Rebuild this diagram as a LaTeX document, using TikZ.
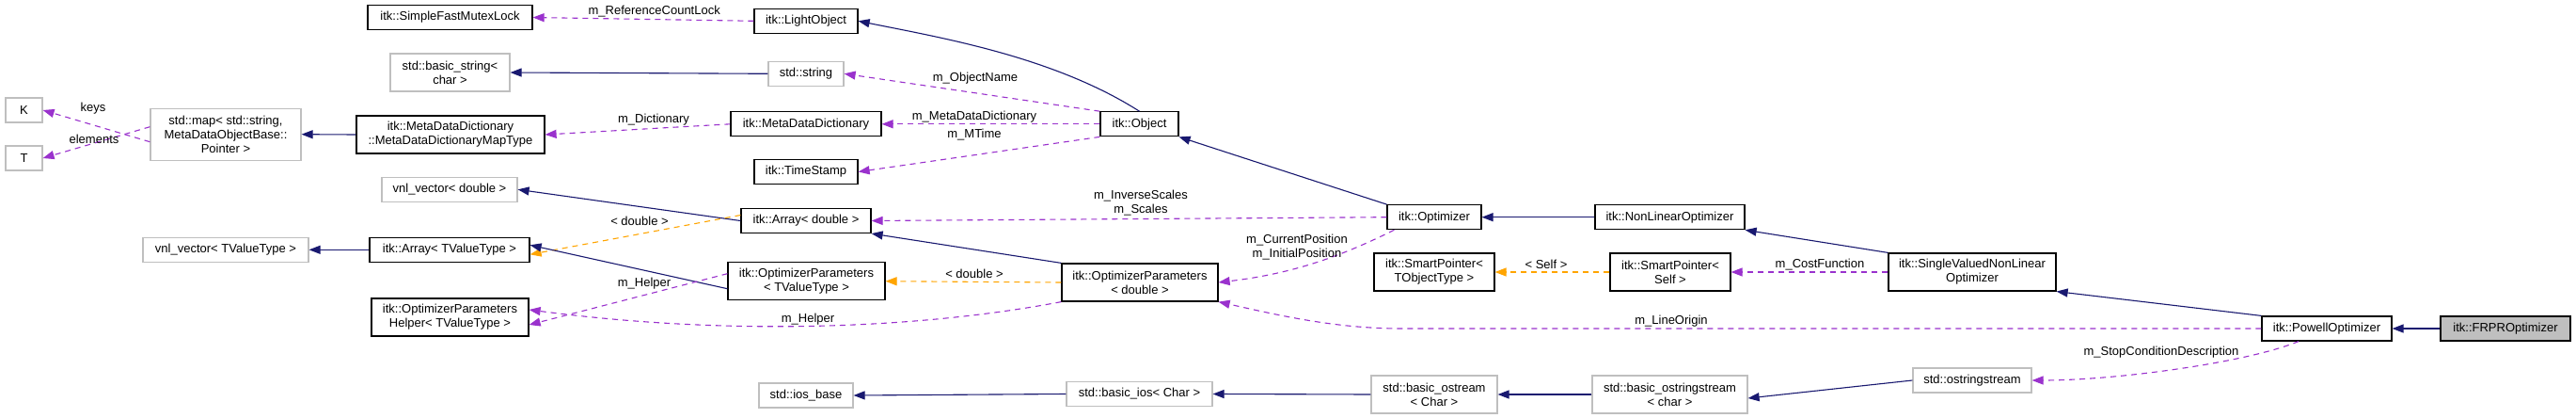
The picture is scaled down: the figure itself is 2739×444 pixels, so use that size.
\documentclass[tikz,border=0pt]{standalone}
\usepackage{fontspec}
\setmainfont{Liberation Sans}
\usetikzlibrary{arrows.meta}
\definecolor{navy}{HTML}{191970}
\definecolor{purp}{HTML}{9A32CD}
\definecolor{orng}{HTML}{FFA500}
\definecolor{gbord}{HTML}{BFBFBF}
\begin{document}
\begin{tikzpicture}[x=1pt,y=-1pt,
  box/.style={draw=black,line width=1.2pt,fill=white,inner sep=1pt,align=center,font=\fontsize{13}{15}\selectfont},
  gbox/.style={box,draw=gbord},
  inh/.style={draw=navy,line width=1.1pt,-{Triangle[length=12pt,width=9pt]}},
  mem/.style={draw=purp,line width=1.1pt,dash pattern=on 6pt off 5pt,-{Triangle[length=12pt,width=9pt]}},
  tmpl/.style={draw=orng,line width=1.1pt,dash pattern=on 6pt off 5pt,-{Triangle[length=12pt,width=9pt]}},
  lab/.style={font=\fontsize{13}{15}\selectfont,inner sep=0pt,align=center}]
\useasboundingbox[fill=white] (0,0) rectangle (2739,444);
% nodes
\node[box,minimum width=175pt,minimum height=26pt] (mutex) at (478.5,18.5) {itk::SimpleFastMutexLock};
\node[gbox,minimum width=127pt,minimum height=40pt] (bstr) at (478.5,77) {std::basic\_string\textless\\char \textgreater};
\node[gbox,minimum width=39pt,minimum height=26pt] (K) at (25.5,117) {K};
\node[gbox,minimum width=39pt,minimum height=26pt] (T) at (25.5,168) {T};
\node[gbox,minimum width=160pt,minimum height=55pt] (map) at (240,142.7) {std::map\textless{} std::string,\\MetaDataObjectBase::\\Pointer \textgreater};
\node[box,minimum width=200pt,minimum height=40pt] (mapt) at (479,143) {itk::MetaDataDictionary\\::MetaDataDictionaryMapType};
\node[gbox,minimum width=144pt,minimum height=26pt] (vnlD) at (478,201.3) {vnl\_vector\textless{} double \textgreater};
\node[gbox,minimum width=176pt,minimum height=26pt] (vnlT) at (240,265.3) {vnl\_vector\textless{} TValueType \textgreater};
\node[box,minimum width=170pt,minimum height=26pt] (arrT) at (478,265.3) {itk::Array\textless{} TValueType \textgreater};
\node[box,minimum width=167pt,minimum height=40pt] (helper) at (478.5,337) {itk::OptimizerParameters\\Helper\textless{} TValueType \textgreater};
\node[box,minimum width=110pt,minimum height=26pt] (light) at (857,22.3) {itk::LightObject};
\node[gbox,minimum width=80pt,minimum height=26pt] (str) at (857,78.3) {std::string};
\node[box,minimum width=160pt,minimum height=26pt] (mdd) at (857,131.8) {itk::MetaDataDictionary};
\node[box,minimum width=110pt,minimum height=26pt] (ts) at (857,182.5) {itk::TimeStamp};
\node[box,minimum width=83pt,minimum height=26pt] (obj) at (1211.5,131.8) {itk::Object};
\node[box,minimum width=138pt,minimum height=26pt] (arrD) at (857,234.5) {itk::Array\textless{} double \textgreater};
\node[box,minimum width=167pt,minimum height=40pt] (opT) at (857.5,298.7) {itk::OptimizerParameters\\\textless{} TValueType \textgreater};
\node[box,minimum width=166pt,minimum height=40pt] (opD) at (1212,300) {itk::OptimizerParameters\\\textless{} double \textgreater};
\node[gbox,minimum width=100pt,minimum height=26pt] (iosb) at (857,420) {std::ios\_base};
\node[gbox,minimum width=155pt,minimum height=26pt] (bios) at (1211.5,418.5) {std::basic\_ios\textless{} Char \textgreater};
\node[box,minimum width=100pt,minimum height=26pt] (optim) at (1525,230.7) {itk::Optimizer};
\node[box,minimum width=159pt,minimum height=26pt] (nlo) at (1775.5,230.7) {itk::NonLinearOptimizer};
\node[box,minimum width=128pt,minimum height=40pt] (spT) at (1525,289) {itk::SmartPointer\textless\\TObjectType \textgreater};
\node[box,minimum width=128pt,minimum height=40pt] (spS) at (1776,289) {itk::SmartPointer\textless\\Self \textgreater};
\node[box,minimum width=178pt,minimum height=40pt] (svnlo) at (2097,289) {itk::SingleValuedNonLinear\\Optimizer};
\node[gbox,minimum width=134pt,minimum height=40pt] (bos) at (1525,419) {std::basic\_ostream\\\textless{} Char \textgreater};
\node[gbox,minimum width=165pt,minimum height=40pt] (boss) at (1775.5,419) {std::basic\_ostringstream\\\textless{} char \textgreater};
\node[gbox,minimum width=126pt,minimum height=26pt] (oss) at (2097,404) {std::ostringstream};
\node[box,minimum width=138pt,minimum height=26pt] (powell) at (2474,349) {itk::PowellOptimizer};
\node[box,fill=gbord,minimum width=138pt,minimum height=26pt] (frpr) at (2664,349) {itk::FRPROptimizer};
% edges
\draw[mem] (light.west) -- node[lab,above=2pt,pos=0.45]{m\_ReferenceCountLock} (mutex.east);
\draw[inh] (obj.north) .. controls (1120,60) and (1000,40) .. (light.east);
\draw[inh] (str.west) -- (bstr.east);
\draw[mem] (obj.north west) -- (str.east);
\node[lab] at (1037,83) {m\_ObjectName};
\draw[mem] (obj.west) -- (mdd.east);
\node[lab] at (1036,124) {m\_MetaDataDictionary};
\draw[mem] (obj.south west) -- (ts.east);
\node[lab] at (1036,143) {m\_MTime};
\draw[mem] (mdd.west) -- (mapt.east);
\node[lab] at (695,127) {m\_Dictionary};
\draw[inh] (mapt.west) -- (map.east);
\draw[mem] ([yshift=-8pt]map.west) -- (K.east);
\node[lab] at (99,115) {keys};
\draw[mem] ([yshift=8pt]map.west) -- (T.east);
\node[lab] at (100,148) {elements};
\draw[inh] (optim.north west) -- (obj.south east);
\draw[mem] (optim.west) -- (arrD.east);
\node[lab] at (1213,216) {m\_InverseScales\\m\_Scales};
\draw[mem] ([xshift=8pt]optim.south west) .. controls (1430,270) and (1380,290) .. (opD.east);
\node[lab] at (1379,263) {m\_CurrentPosition\\m\_InitialPosition};
\draw[inh] (arrD.west) -- (vnlD.east);
\draw[tmpl] ([yshift=6pt]arrD.west) -- ([yshift=-5pt]arrT.east);
\node[lab] at (680,235) {\textless{} double \textgreater};
\draw[inh] (opD.north west) -- (arrD.south east);
\draw[tmpl] (opD.west) -- (opT.east);
\node[lab] at (1036,291) {\textless{} double \textgreater};
\draw[inh] ([yshift=-8pt]opT.west) -- ([yshift=5pt]arrT.east);
\draw[inh] (arrT.west) -- (vnlT.east);
\draw[mem] ([yshift=8pt]opT.west) -- ([yshift=-8pt]helper.east);
\node[lab] at (685,301) {m\_Helper};
\draw[mem] (opD.south west) .. controls (1000,345) and (800,360) .. ([yshift=8pt]helper.east);
\node[lab] at (859,339) {m\_Helper};
\draw[inh] (nlo.west) -- (optim.east);
\draw[inh] (svnlo.north west) -- (nlo.south east);
\draw[tmpl] (spS.west) -- (spT.east);
\node[lab] at (1644,281) {\textless{} Self \textgreater};
\draw[mem] (svnlo.west) -- (spS.east);
\node[lab] at (1935,281) {m\_CostFunction};
\draw[inh] (powell.north west) -- (svnlo.south east);
\draw[mem] (powell.west) -- (1490,349) .. controls (1420,349) and (1360,335) .. (opD.south east);
\node[lab] at (1777,341) {m\_LineOrigin};
\draw[mem] ([xshift=-30pt]powell.south) .. controls (2390,385) and (2250,404) .. (oss.east);
\node[lab] at (2298,374) {m\_StopConditionDescription};
\draw[inh] (frpr.west) -- (powell.east);
\draw[inh] (bios.west) -- (iosb.east);
\draw[inh] (bos.west) -- (bios.east);
\draw[inh] (boss.west) -- (bos.east);
\draw[inh] (oss.west) -- ([yshift=-4pt]boss.east);
\end{tikzpicture}
\end{document}
